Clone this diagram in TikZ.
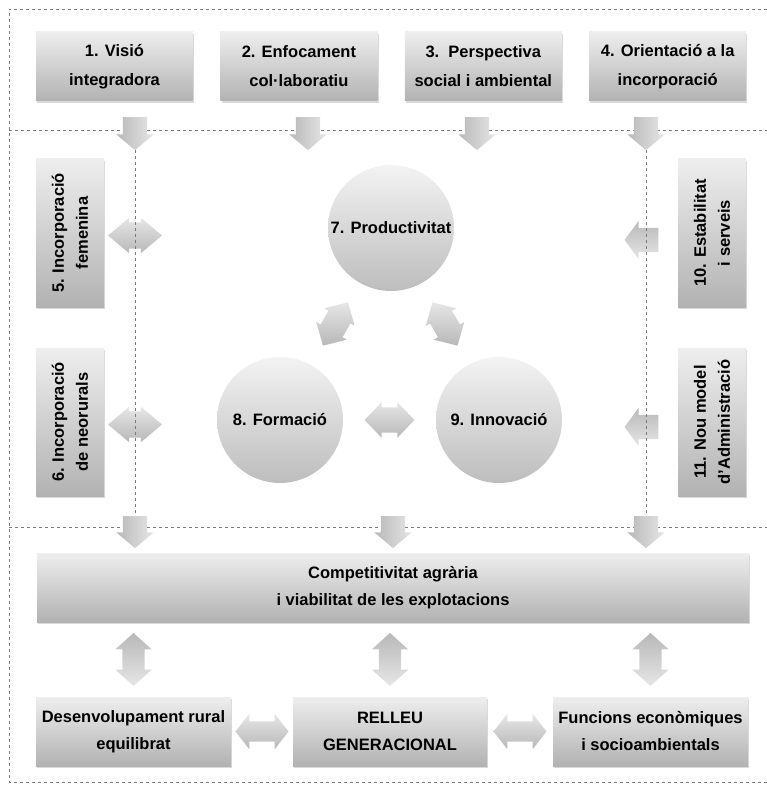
\documentclass[tikz,border=0pt]{standalone}
\usepackage{fontspec}
\setmainfont{Liberation Sans}
\usetikzlibrary{
    positioning,
    shapes.arrows,
    shadows,
    calc
}

\definecolor{boxtop}{HTML}{EEEEEE}
\definecolor{boxbot}{HTML}{B2B2B2}
\definecolor{balltop}{HTML}{F3F3F3}
\definecolor{ballbot}{HTML}{BDBDBD}
\definecolor{arrtop}{HTML}{E6E6E6}
\definecolor{arrbot}{HTML}{B8B8B8}
\definecolor{dashgrey}{HTML}{7A7A7A}

\tikzset{
    greybox/.style={rectangle, top color=boxtop, bottom color=boxbot,
        drop shadow={shadow xshift=1.2pt, shadow yshift=-2pt, opacity=.3},
        minimum height=69pt, inner sep=2pt, align=center,
        font=\fontsize{16.5}{27}\selectfont\bfseries},
    topbox/.style={greybox, minimum width=157pt, font=\fontsize{16.5}{29}\selectfont\bfseries},
    sidebox/.style={greybox, rotate=90, minimum width=148pt, minimum height=68pt,
        font=\fontsize{16.5}{24}\selectfont\bfseries},
    ball/.style={circle, minimum size=126pt, inner sep=0pt, top color=balltop, bottom color=ballbot,
        font=\fontsize{16.5}{20}\selectfont\bfseries},
    dblarrow/.style={double arrow, double arrow head extend=5pt, double arrow tip angle=92,
        minimum height=50pt, inner xsep=0pt, inner ysep=12.5pt, top color=arrtop, bottom color=arrbot},
    sidedbl/.style={dblarrow, double arrow head extend=4.5pt, double arrow tip angle=80,
        minimum height=54pt, inner ysep=13pt},
    vertdbl/.style={dblarrow, rotate=90, double arrow head extend=7pt, double arrow tip angle=96,
        minimum height=53pt, inner ysep=11pt, top color=arrbot, bottom color=arrtop},
    flatdbl/.style={dblarrow, double arrow head extend=7.5pt, double arrow tip angle=104,
        minimum height=53pt, inner ysep=10pt},
    downarrow/.style={single arrow, single arrow head extend=6.5pt, single arrow tip angle=100,
        minimum height=33pt, inner xsep=0pt, inner ysep=12pt, rotate=-90,
        left color=arrbot, right color=arrtop},
    leftarrow/.style={single arrow, single arrow head extend=7pt, single arrow tip angle=107,
        minimum height=34pt, inner xsep=0pt, inner ysep=12pt, rotate=180,
        top color=arrbot, bottom color=arrtop},
    dashline/.style={draw=dashgrey, line width=0.7pt, dash pattern=on 3pt off 3pt}
}

\begin{document}
\begin{tikzpicture}[x=1pt, y=-1pt]
    \useasboundingbox (0,0) rectangle (767,786);

    \coordinate (tl) at (9,9);
    \coordinate (tr) at (767,9);
    \coordinate (bl) at (9,782);
    \coordinate (br) at (767,782);
    \coordinate (ml) at (9,130);
    \coordinate (mr) at (767,130);
    \coordinate (nl) at (9,527);
    \coordinate (nr) at (767,527);

    \draw[dashline] (tr) -- (tl) -- (bl) -- (br);
    \draw[dashline] (ml) -- (mr) (nl) -- (nr);

    \node[topbox] (visio) at (114.5,66.5) {1. Visió\\integradora};
    \node[topbox, right=27pt of visio] (enfoc) {2. Enfocament\\col·laboratiu};
    \node[topbox, right=27pt of enfoc] (persp) {3.\ \ Perspectiva\\social i ambiental};
    \node[topbox, right=27pt of persp] (orient) {4. Orientació a la\\incorporació};

    \node[downarrow] (ta1) at (135,128.5) {};
    \node[downarrow] (ta2) at (308,128.5) {};
    \node[downarrow] (ta3) at (477,128.5) {};
    \node[downarrow] (ta4) at (646,128.5) {};

    \node[sidebox] (femen) at (70,233) {5. Incorporació\\femenina};
    \node[sidebox] (neor) at (70,422) {6. Incorporació\\de neorurals};
    \node[sidebox] (estab) at (712,233) {10. Estabilitat\\i serveis};
    \node[sidebox] (admin) at (712,422) {11. Nou model\\d'Administració};

    \node[ball] (prod) at (391,228) {7. Productivitat};
    \node[ball] (form) at (280,420) {8. Formació};
    \node[ball] (innov) at (499,420) {9. Innovació};

    \node[dblarrow, rotate=60] (fp) at ($(form)!0.5!(prod)$) {};
    \node[dblarrow, rotate=-60] (pi) at ($(prod)!0.5!(innov)$) {};
    \node[dblarrow] (fi) at ($(form)!0.5!(innov)$) {};

    \node[sidedbl] (sa5) at ($(ta1.tip |- femen)+(0,2.5)$) {};
    \node[sidedbl] (sa6) at ($(ta1.tip |- neor)+(0,2.5)$) {};
    \node[leftarrow] (sa10) at ($(ta4.tip |- estab)+(0,7)$) {};
    \node[leftarrow] (sa11) at ($(ta4.tip |- admin)+(0,5)$) {};

    \node[greybox, minimum width=712pt] (comp) at (393,587.5) {Competitivitat agrària\\i viabilitat de les explotacions};

    \node[downarrow, minimum height=32pt] (ba1) at (ta1.tip |- nl) {};
    \node[downarrow, minimum height=32pt] (ba2) at (comp.north |- nl) {};
    \node[downarrow, minimum height=32pt] (ba3) at (ta4.tip |- nl) {};

    \draw[dashline] (ta1.tip) -- (ba1.tail);
    \draw[dashline] (ta4.tip) -- (ba3.tail);

    \node[greybox, minimum width=195pt] (desen) at (133.5,731.5) {Desenvolupament rural\\equilibrat};
    \node[greybox, minimum width=194pt] (relleu) at (390,731.5) {RELLEU\\GENERACIONAL};
    \node[greybox, minimum width=195pt] (funcio) at (650.5,731.5) {Funcions econòmiques\\i socioambientals};

    \node[vertdbl] (cd) at ($(comp.south -| desen)!0.5!(desen.north)$) {};
    \node[vertdbl] (cr) at ($(comp.south -| relleu)!0.5!(relleu.north)$) {};
    \node[vertdbl] (cf) at ($(comp.south -| funcio)!0.5!(funcio.north)$) {};

    \node[flatdbl] (dr) at ($(desen.east)!0.5!(relleu.west)$) {};
    \node[flatdbl] (rf) at ($(relleu.east)!0.5!(funcio.west)$) {};
\end{tikzpicture}
\end{document}
